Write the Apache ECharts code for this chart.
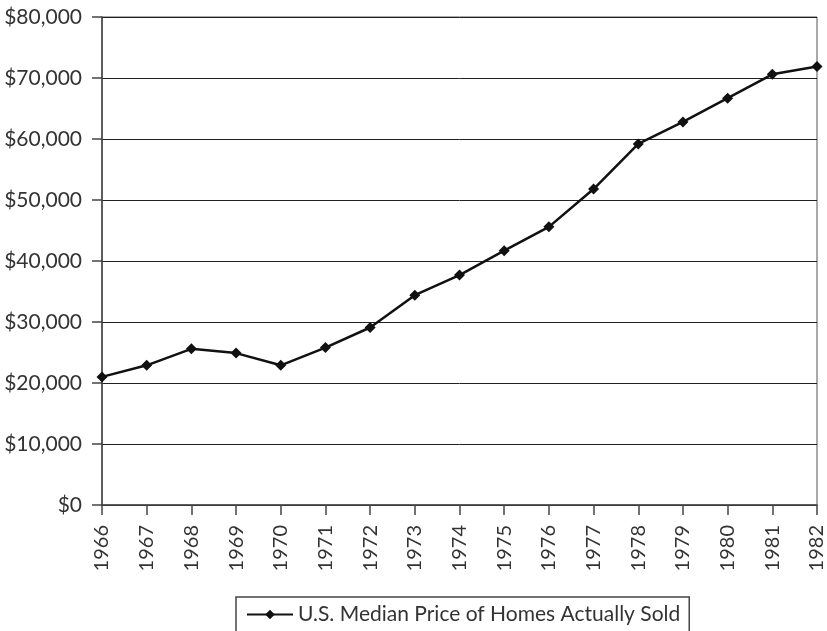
<!DOCTYPE html>
<html>
<head>
<meta charset="utf-8">
<script src="https://cdn.jsdelivr.net/npm/echarts@6/dist/echarts.min.js"></script>
<style>
  html, body { margin: 0; padding: 0; background: #fff; }
  #chart { width: 827px; height: 631px; }
</style>
</head>
<body>
<div id="chart"></div>
<script>
const years = ["1966", "1967", "1968", "1969", "1970", "1971", "1972", "1973", "1974",
  "1975", "1976", "1977", "1978", "1979", "1980", "1981", "1982"];
const medianPrice = [21000, 22900, 25600, 24900, 22900, 25800, 29100, 34400, 37700,
  41700, 45600, 51800, 59200, 62800, 66700, 70600, 71900];
const seriesName = "U.S. Median Price of Homes Actually Sold";

const font = "Lato";
const myChart = echarts.init(document.getElementById("chart"));

const option = {
  animation: false,
  backgroundColor: "#fff",
  textStyle: { fontFamily: font, color: "#333" },
  grid: {
    left: 102,
    right: 7,
    top: 17,
    bottom: 126,
    show: true,
    borderColor: "#555",
    borderWidth: 1,
  },
  legend: {
    data: [seriesName],
    left: 236,
    top: 597,
    padding: [7, 9, 14, 10],
    borderColor: "#444",
    borderWidth: 1.5,
    borderRadius: 0,
    itemWidth: 46,
    itemHeight: 12,
    itemGap: 8,
    textStyle: { fontFamily: font, fontSize: 21, color: "#333" },
  },
  xAxis: {
    type: "category",
    data: years,
    boundaryGap: false,
    axisLine: { lineStyle: { color: "#444", width: 1.5 } },
    axisTick: { show: true, length: 10, lineStyle: { color: "#444", width: 1.5 } },
    axisLabel: { rotate: 90, margin: 20, fontSize: 20, color: "#333", fontFamily: font },
  },
  yAxis: {
    type: "value",
    min: 0,
    max: 80000,
    interval: 10000,
    axisLine: { show: true, lineStyle: { color: "#444", width: 1.5 } },
    axisTick: { show: true, length: 10, lineStyle: { color: "#444", width: 1.5 } },
    axisLabel: {
      margin: 20,
      fontSize: 21,
      color: "#333",
      fontFamily: font,
      formatter: v => "$" + v.toLocaleString("en-US"),
    },
    splitLine: { show: true, lineStyle: { color: "#222", width: 1 } },
  },
  series: [
    {
      name: seriesName,
      type: "line",
      data: medianPrice,
      symbol: "diamond",
      symbolSize: 11,
      lineStyle: { color: "#111", width: 2.5 },
      itemStyle: { color: "#111" },
    },
  ],
};
myChart.setOption(option);
</script>
</body>
</html>
